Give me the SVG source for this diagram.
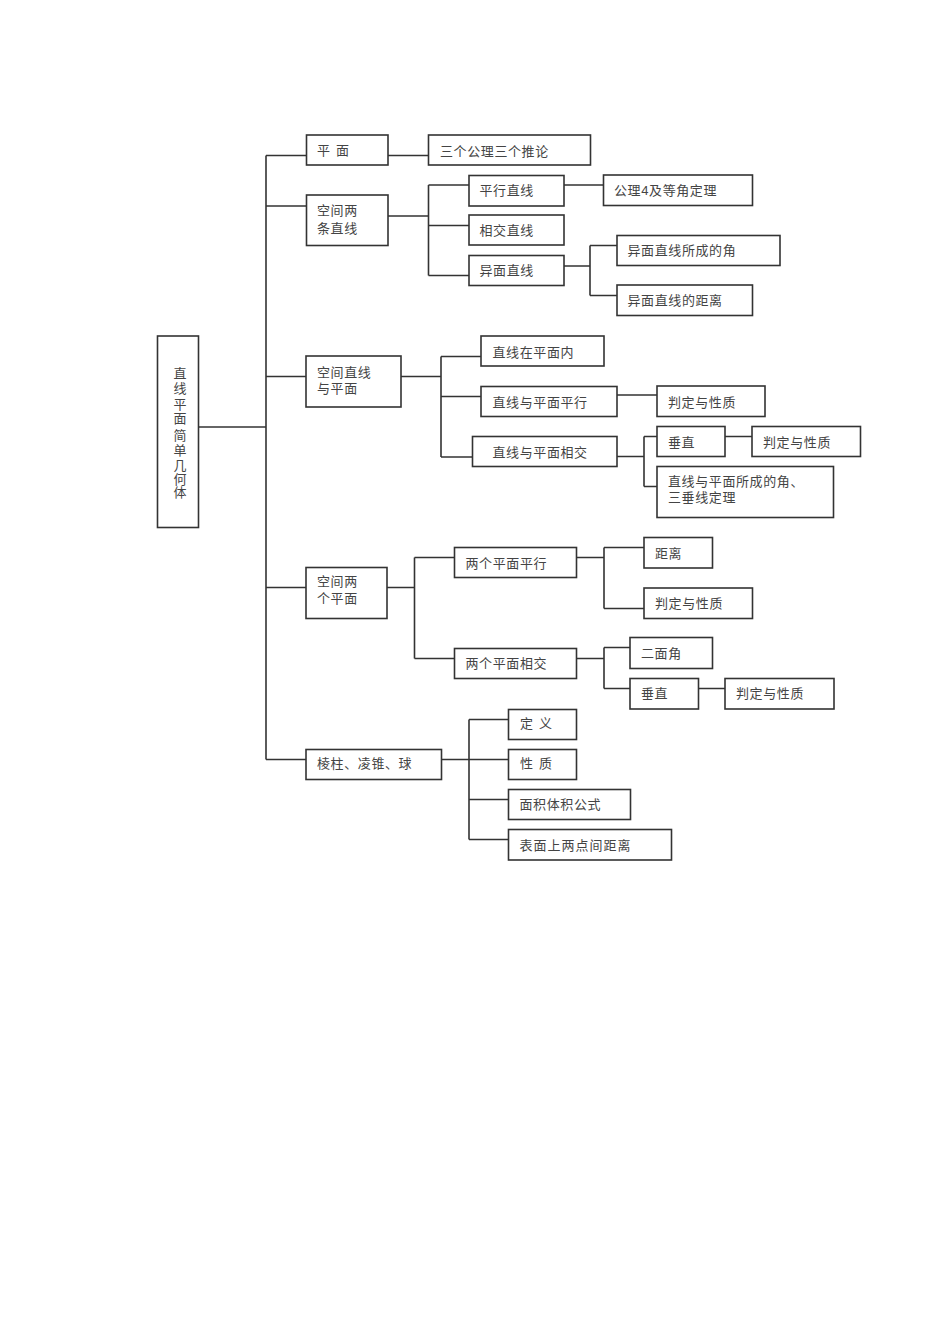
<svg xmlns="http://www.w3.org/2000/svg" width="950" height="1344" viewBox="0 0 950 1344">
<style>
rect{fill:#fff;stroke:#333;stroke-width:1.6}
.c path{fill:none;stroke:#333;stroke-width:1.6}
text{font-family:"Liberation Sans","Noto Sans CJK SC",sans-serif;font-size:13px;fill:#444;letter-spacing:0.6px}
.sp{letter-spacing:6px}
</style>
<rect x="0" y="0" width="950" height="1344" style="fill:#fff;stroke:none"/>
<g class="c">
<path d="M266 155.5V759.5"/>
<path d="M198.5 427H266"/>
<path d="M266 155.5H306.5M388 155.5H428.5"/>
<path d="M266 206H306.5M388 216H428.5M428.5 185V275.5M428.5 185H469M428.5 225.5H469M428.5 275.5H469"/>
<path d="M564 185H603.5M564 266H590M590 245.5V295.5M590 245.5H617M590 295.5H617"/>
<path d="M266 376.5H306M401 376.5H441M441 356.5V457M441 356.5H481M441 396.5H481M441 457H472.5"/>
<path d="M617 395H657M617 456.5H644M644 436.5V486.5M644 436.5H657M644 486.5H657M725 436.5H752"/>
<path d="M266 587.5H306M387 587.5H414.5M414.5 557.5V658.5M414.5 557.5H454.5M414.5 658.5H454.5"/>
<path d="M576.5 557.5H604M604 547.5V608.5M604 547.5H644M604 608.5H644"/>
<path d="M576.5 658.5H604M604 647.5V688.5M604 647.5H630M604 688.5H630M698.5 688.5H725"/>
<path d="M266 759.5H306M441.5 759.5H469M469 719.5V839.5M469 719.5H508.5M469 759.5H508.5M469 799.5H508.5M469 839.5H508.5"/>
</g>
<g id="root"><rect x="157.5" y="336" width="41" height="191.5"/>
<text x="180" text-anchor="middle" style="letter-spacing:0"><tspan x="180" y="378">直</tspan><tspan x="180" y="393">线</tspan><tspan x="180" y="408.5">平</tspan><tspan x="180" y="423">面</tspan><tspan x="180" y="440">简</tspan><tspan x="180" y="455">单</tspan><tspan x="180" y="470">几</tspan><tspan x="180" y="483.5">何</tspan><tspan x="180" y="497">体</tspan></text></g>
<g id="n-pm"><rect x="306.5" y="135" width="81.5" height="30"/><text x="317" y="154.5" class="sp">平面</text></g>
<g id="n-sg"><rect x="428.5" y="135" width="162" height="30"/><text x="440" y="155.5">三个公理三个推论</text></g>
<g id="n-kjltzx"><rect x="306.5" y="195" width="81.5" height="50.5"/><text x="317" y="215">空间两</text><text x="317" y="232.5">条直线</text></g>
<g id="n-pxzx"><rect x="469" y="175.5" width="95" height="30.5"/><text x="479.5" y="195">平行直线</text></g>
<g id="n-gl4"><rect x="603.5" y="175" width="149" height="30.5"/><text x="614" y="194.5">公理4及等角定理</text></g>
<g id="n-xjzx"><rect x="469" y="215" width="95" height="30"/><text x="479.5" y="235">相交直线</text></g>
<g id="n-ymzx"><rect x="469" y="255.5" width="95" height="30"/><text x="479.5" y="275">异面直线</text></g>
<g id="n-ymj"><rect x="617" y="235.5" width="163" height="30"/><text x="627.5" y="254.5">异面直线所成的角</text></g>
<g id="n-ymjl"><rect x="617" y="285" width="135.5" height="30.5"/><text x="627.5" y="305">异面直线的距离</text></g>
<g id="n-kjzxpm"><rect x="306" y="356" width="95" height="51"/><text x="317" y="376.5">空间直线</text><text x="317" y="392.5">与平面</text></g>
<g id="n-zxzpmn"><rect x="481" y="336" width="123" height="30"/><text x="492.5" y="357">直线在平面内</text></g>
<g id="n-zxpx"><rect x="481" y="386.5" width="136" height="30"/><text x="492.5" y="406.5">直线与平面平行</text></g>
<g id="n-pd1"><rect x="657" y="386" width="108" height="30.5"/><text x="668" y="406.5">判定与性质</text></g>
<g id="n-zxxj"><rect x="472.5" y="436.5" width="144.5" height="30"/><text x="492.5" y="456.5">直线与平面相交</text></g>
<g id="n-cz1"><rect x="657" y="426.5" width="68" height="30"/><text x="668" y="447">垂直</text></g>
<g id="n-pd2"><rect x="752" y="426.5" width="108.5" height="30"/><text x="763" y="447">判定与性质</text></g>
<g id="n-szd"><rect x="657" y="466.5" width="176.5" height="51"/><text x="668" y="485.5">直线与平面所成的角、</text><text x="668" y="501.5">三垂线定理</text></g>
<g id="n-kjlgpm"><rect x="306" y="567.5" width="81" height="51"/><text x="317" y="586">空间两</text><text x="317" y="603">个平面</text></g>
<g id="n-lgpx"><rect x="454.5" y="547.5" width="122" height="30"/><text x="465.5" y="567.5">两个平面平行</text></g>
<g id="n-jl"><rect x="644" y="537.5" width="68.5" height="30.5"/><text x="655" y="557.5">距离</text></g>
<g id="n-pd3"><rect x="644" y="588" width="108.5" height="30.5"/><text x="655" y="607.5">判定与性质</text></g>
<g id="n-lgxj"><rect x="454.5" y="648.5" width="122" height="30"/><text x="465.5" y="668">两个平面相交</text></g>
<g id="n-emj"><rect x="630" y="637.5" width="82.5" height="31"/><text x="641" y="658">二面角</text></g>
<g id="n-cz2"><rect x="630" y="678.5" width="68.5" height="30.5"/><text x="641" y="698">垂直</text></g>
<g id="n-pd4"><rect x="725" y="678.5" width="109" height="30.5"/><text x="736" y="698">判定与性质</text></g>
<g id="n-lz"><rect x="306" y="749.5" width="135.5" height="30"/><text x="317" y="768">棱柱、凌锥、球</text></g>
<g id="n-dy"><rect x="508.5" y="709.5" width="68" height="30"/><text x="520" y="728" class="sp">定义</text></g>
<g id="n-xz"><rect x="508.5" y="749.5" width="68" height="30"/><text x="520" y="768" class="sp">性质</text></g>
<g id="n-mj"><rect x="508.5" y="789.5" width="122" height="30"/><text x="519.5" y="809">面积体积公式</text></g>
<g id="n-bm"><rect x="508.5" y="829.5" width="163" height="30.5"/><text x="519.5" y="850" style="letter-spacing:1px">表面上两点间距离</text></g>
</svg>
